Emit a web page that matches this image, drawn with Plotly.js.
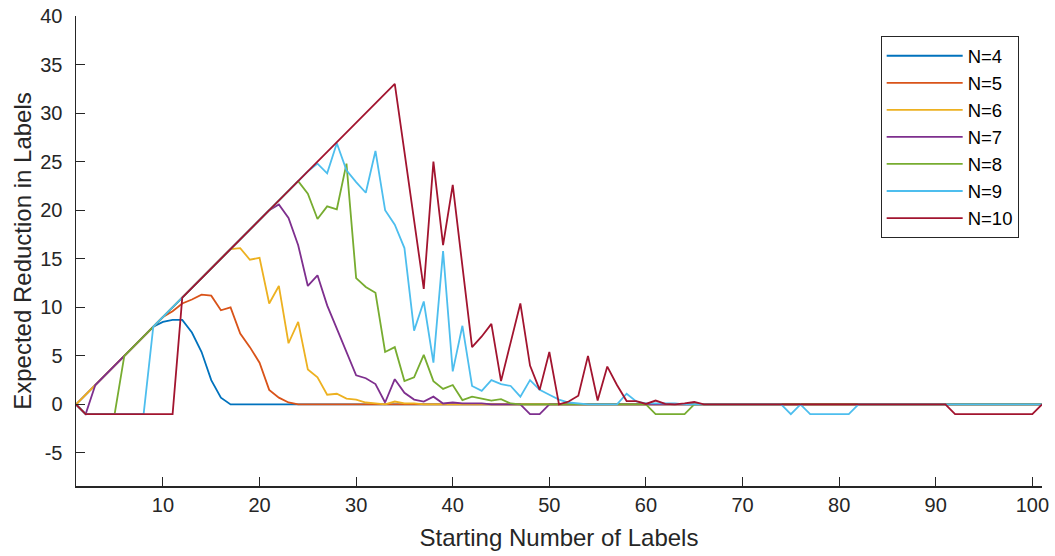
<!DOCTYPE html>
<html>
<head>
<meta charset="utf-8">
<script src="https://cdn.plot.ly/plotly-3.0.1.min.js"></script>
<style>
html,body{margin:0;padding:0;background:#fff;}
#chart{width:1055px;height:556px;}
</style>
</head>
<body>
<div id="chart"></div>
<script>
// Starting number of labels (x)
const startLabels = [
  1,2,3,4,5,6,7,8,9,10,
  11,12,13,14,15,16,17,18,19,20,
  21,22,23,24,25,26,27,28,29,30,
  31,32,33,34,35,36,37,38,39,40,
  41,42,43,44,45,46,47,48,49,50,
  51,52,53,54,55,56,57,58,59,60,
  61,62,63,64,65,66,67,68,69,70,
  71,72,73,74,75,76,77,78,79,80,
  81,82,83,84,85,86,87,88,89,90,
  91,92,93,94,95,96,97,98,99,100,
  101
];

const seriesNames = ["N=4","N=5","N=6","N=7","N=8","N=9","N=10"];

const n4 = [
  0,1,2,3,4,5,6,7,8,8.5,
  8.7,8.7,7.4,5.4,2.5,0.7,0,0,0,0,
  0,0,0,0,0,0,0,0,0,0,
  0,0,0,0,0,0,0,0,0,0,
  0,0,0,0,0,0,0,0,0,0,
  0,0,0,0,0,0,0,0,0,0,
  0,0,0,0,0,0,0,0,0,0,
  0,0,0,0,0,0,0,0,0,0,
  0,0,0,0,0,0,0,0,0,0,
  0,0,0,0,0,0,0,0,0,0,
  0
];
const n5 = [
  0,1,2,3,4,5,6,7,8,9,
  9.6,10.4,10.8,11.3,11.2,9.7,10.0,7.3,5.9,4.3,
  1.5,0.7,0.2,0,0,0,0,0,0,0,
  0,0,0,0,0,0,0,0,0,0,
  0,0,0,0,0,0,0,0,0,0,
  0,0,0,0,0,0,0,0,0,0,
  0,0,0,0,0,0,0,0,0,0,
  0,0,0,0,0,0,0,0,0,0,
  0,0,0,0,0,0,0,0,0,0,
  0,0,0,0,0,0,0,0,0,0,
  0
];
const n6 = [
  0,1,2,3,4,5,6,7,8,9,
  10,11,12,13,14,15,16,16.1,14.9,15.1,
  10.4,12.2,6.3,8.5,3.6,2.8,1.0,1.1,0.6,0.5,
  0.2,0.1,0,0.3,0.1,0.1,0,0,0,0,
  0,0,0,0,0,0,0,0,0,0,
  0,0,0,0,0,0,0,0,0,0,
  0,0,0,0,0,0,0,0,0,0,
  0,0,0,0,0,0,0,0,0,0,
  0,0,0,0,0,0,0,0,0,0,
  0,0,0,0,0,0,0,0,0,0,
  0
];
const n7 = [
  0,-1,2,3,4,5,6,7,8,9,
  10,11,12,13,14,15,16,17,18,19,
  20,20.6,19.2,16.4,12.2,13.3,10.2,7.8,5.4,3.0,
  2.7,2.1,0.2,2.6,1.2,0.5,0.3,0.8,0.1,0.2,
  0.1,0.1,0.1,0,0,0,0,-1,-1,0,
  0,0,0,0,0,0,0,0,0,0,
  0,0,0,0,0,0,0,0,0,0,
  0,0,0,0,0,0,0,0,0,0,
  0,0,0,0,0,0,0,0,0,0,
  0,0,0,0,0,0,0,0,0,0,
  0
];
const n8 = [
  0,-1,-1,-1,-1,5,6,7,8,9,
  10,11,12,13,14,15,16,17,18,19,
  20,21,22,23,21.7,19.1,20.4,20.1,24.8,13.0,
  12.1,11.5,5.4,5.9,2.4,2.8,5.1,2.4,1.6,2.0,
  0.45,0.8,0.6,0.4,0.55,0.1,0,0,0,0,
  0,0,0,0,0,0,0,0,0,0,
  -1,-1,-1,-1,0,0,0,0,0,0,
  0,0,0,0,0,0,0,0,0,0,
  0,0,0,0,0,0,0,0,0,0,
  0,0,0,0,0,0,0,0,0,0,
  0
];
const n9 = [
  0,-1,-1,-1,-1,-1,-1,-1,8,9,
  10,11,12,13,14,15,16,17,18,19,
  20,21,22,23,24,24.8,23.8,26.9,24.1,22.9,
  21.8,26.1,20.0,18.5,16.1,7.6,10.6,4.3,15.8,3.4,
  8.1,1.9,1.4,2.5,2.1,1.9,0.8,2.5,1.5,1.0,
  0.5,0.2,0.1,0,0,0,0,1.1,0.3,0.1,
  0.1,0.1,0.1,0,0,0,0,0,0,0,
  0,0,0,0,-1,0,-1,-1,-1,-1,
  -1,0,0,0,0,0,0,0,0,0,
  0,0,0,0,0,0,0,0,0,0,
  0
];
const n10 = [
  0,-1,-1,-1,-1,-1,-1,-1,-1,-1,
  -1,11,12,13,14,15,16,17,18,19,
  20,21,22,23,24,25,26,27,28,29,
  30,31,32,33,26.0,19.0,11.9,25.0,16.4,22.6,
  14.3,5.9,7.0,8.3,2.4,6.4,10.4,4.0,1.5,5.4,
  0,0.3,0.9,5.0,0.4,3.9,2.0,0.35,0.35,0.05,
  0.4,0.05,0,0.1,0.25,0,0,0,0,0,
  0,0,0,0,0,0,0,0,0,0,
  0,0,0,0,0,0,0,0,0,0,
  0,-1,-1,-1,-1,-1,-1,-1,-1,-1,
  0
];

const allSeries = [n4, n5, n6, n7, n8, n9, n10];
const colors = ["#0072BD","#D95319","#EDB120","#7E2F8E","#77AC30","#4DBEEE","#A2142F"];

const xTicks = [10,20,30,40,50,60,70,80,90,100];
const yTicks = [-5,0,5,10,15,20,25,30,35,40];

const traces = allSeries.map((ys, i) => ({
  type: "scatter",
  mode: "lines",
  x: startLabels,
  y: ys,
  name: seriesNames[i],
  line: {color: colors[i], width: 1.8}
}));

const fontFam = '"Liberation Sans", Arial, Helvetica, sans-serif';
const axisCol = "#262626";

const layout = {
  width: 1055,
  height: 556,
  margin: {l: 76, r: 13, t: 16, b: 70, pad: 0},
  paper_bgcolor: "#ffffff",
  plot_bgcolor: "#ffffff",
  font: {family: fontFam, color: axisCol, size: 20},
  showlegend: true,
  legend: {
    x: 0.833, y: 0.957, xanchor: "left", yanchor: "top",
    bgcolor: "#ffffff", bordercolor: axisCol, borderwidth: 1,
    font: {family: fontFam, size: 18.5, color: "#000000"},
    itemwidth: 76,
    tracegroupgap: 0
  },
  xaxis: {
    range: [1, 101],
    tickmode: "array",
    tickvals: xTicks,
    ticktext: xTicks.map(String),
    ticks: "inside",
    ticklen: 9,
    tickwidth: 1,
    tickcolor: axisCol,
    showline: true,
    linecolor: axisCol,
    linewidth: 1.5,
    showgrid: false,
    zeroline: false,
    tickfont: {family: fontFam, size: 20, color: axisCol},
    title: {text: "Starting Number of Labels", font: {family: fontFam, size: 24, color: axisCol}, standoff: 14},
    automargin: false
  },
  yaxis: {
    range: [-8.4, 40],
    tickmode: "array",
    tickvals: yTicks,
    ticktext: yTicks.map(String),
    ticks: "inside",
    ticklen: 9,
    tickwidth: 1,
    tickcolor: axisCol,
    showline: true,
    linecolor: axisCol,
    linewidth: 1.5,
    showgrid: false,
    zeroline: false,
    ticklabelstandoff: 8,
    tickfont: {family: fontFam, size: 20, color: axisCol},
    title: {text: "Expected Reduction in Labels", font: {family: fontFam, size: 24, color: axisCol}, standoff: 2},
    automargin: false
  }
};

Plotly.newPlot("chart", traces, layout, {displayModeBar: false, staticPlot: true});
</script>
</body>
</html>
